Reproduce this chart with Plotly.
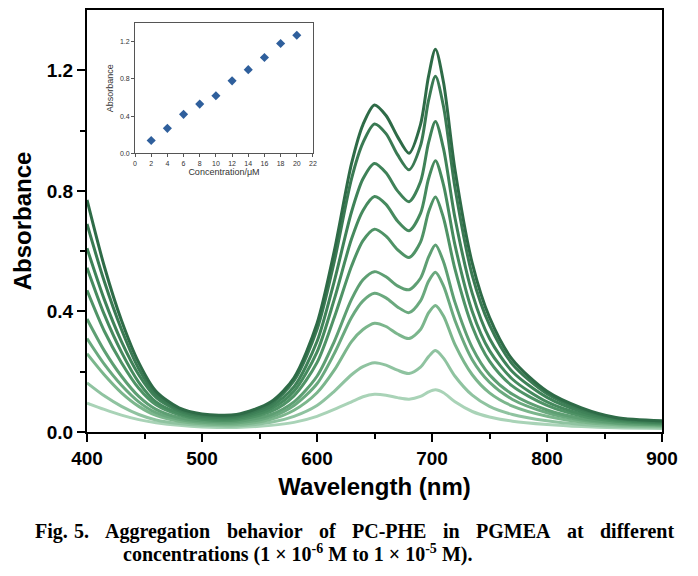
import plotly.graph_objects as go

wl = [400, 415, 430, 445, 460, 480, 500, 530, 560, 580, 600, 615, 630, 640, 650,
      660, 670, 680, 690, 697, 703, 710, 720, 735, 750, 770, 800, 830, 860, 900]

# absorbance spectra, lowest concentration (c1) to highest (c10)
c1 = [0.096, 0.075, 0.056, 0.041, 0.031, 0.022, 0.017, 0.015, 0.022, 0.032, 0.052, 0.075, 0.10, 0.117, 0.125,
      0.122, 0.114, 0.109, 0.118, 0.133, 0.14, 0.13, 0.10, 0.068, 0.05, 0.036, 0.025, 0.018, 0.014, 0.012]
c2 = [0.163, 0.12, 0.085, 0.058, 0.04, 0.028, 0.022, 0.02, 0.032, 0.052, 0.088, 0.135, 0.19, 0.217, 0.23,
      0.222, 0.205, 0.194, 0.215, 0.25, 0.27, 0.245, 0.185, 0.122, 0.085, 0.058, 0.037, 0.025, 0.019, 0.016]
c3 = [0.26, 0.19, 0.13, 0.085, 0.055, 0.036, 0.027, 0.025, 0.042, 0.072, 0.13, 0.205, 0.30, 0.34, 0.361,
      0.35, 0.325, 0.31, 0.34, 0.395, 0.42, 0.385, 0.29, 0.19, 0.13, 0.086, 0.052, 0.033, 0.024, 0.019]
c4 = [0.31, 0.225, 0.155, 0.10, 0.064, 0.042, 0.032, 0.03, 0.05, 0.088, 0.16, 0.26, 0.38, 0.435, 0.46,
      0.445, 0.415, 0.396, 0.435, 0.50, 0.53, 0.485, 0.37, 0.24, 0.165, 0.108, 0.064, 0.04, 0.028, 0.022]
c5 = [0.375, 0.27, 0.185, 0.118, 0.075, 0.048, 0.037, 0.035, 0.058, 0.10, 0.185, 0.30, 0.44, 0.505, 0.532,
      0.515, 0.485, 0.472, 0.51, 0.58, 0.62, 0.565, 0.43, 0.28, 0.19, 0.125, 0.073, 0.045, 0.031, 0.024]
c6 = [0.47, 0.335, 0.23, 0.145, 0.09, 0.057, 0.042, 0.04, 0.068, 0.12, 0.23, 0.38, 0.55, 0.635, 0.673,
      0.65, 0.605, 0.579, 0.63, 0.73, 0.78, 0.71, 0.54, 0.35, 0.235, 0.152, 0.088, 0.053, 0.036, 0.027]
c7 = [0.545, 0.39, 0.265, 0.165, 0.10, 0.063, 0.047, 0.045, 0.077, 0.135, 0.265, 0.44, 0.64, 0.735, 0.781,
      0.755, 0.70, 0.668, 0.725, 0.84, 0.90, 0.82, 0.62, 0.40, 0.27, 0.175, 0.10, 0.06, 0.04, 0.03]
c8 = [0.61, 0.44, 0.30, 0.19, 0.115, 0.07, 0.052, 0.05, 0.085, 0.15, 0.30, 0.50, 0.73, 0.84, 0.891,
      0.86, 0.80, 0.764, 0.83, 0.96, 1.03, 0.94, 0.71, 0.46, 0.31, 0.20, 0.115, 0.068, 0.043, 0.032]
c9 = [0.69, 0.50, 0.34, 0.21, 0.125, 0.075, 0.056, 0.054, 0.094, 0.17, 0.34, 0.565, 0.84, 0.96, 1.022,
      0.99, 0.92, 0.87, 0.95, 1.10, 1.18, 1.08, 0.81, 0.52, 0.355, 0.225, 0.127, 0.075, 0.046, 0.035]
c10 = [0.77, 0.55, 0.37, 0.23, 0.135, 0.08, 0.06, 0.058, 0.10, 0.18, 0.36, 0.60, 0.89, 1.02, 1.085,
       1.05, 0.98, 0.925, 1.02, 1.18, 1.27, 1.16, 0.87, 0.56, 0.38, 0.24, 0.135, 0.08, 0.048, 0.037]

spectra = [c1, c2, c3, c4, c5, c6, c7, c8, c9, c10]
colores = ['#a9d3b7', '#8fc3a0', '#7bb68c', '#6aa97e', '#5e9f73',
           '#4f9366', '#468a5e', '#3f8258', '#3a7a53', '#2e6b47']

# inset: peak absorbance at 703 nm vs concentration
conc = [2, 4, 6, 8, 10, 12, 14, 16, 18, 20]
abs_703 = [0.14, 0.27, 0.42, 0.53, 0.62, 0.78, 0.90, 1.03, 1.18, 1.27]

fig = go.Figure()

for s, col in zip(spectra, colores):
    fig.add_trace(go.Scatter(x=wl, y=s, mode='lines',
                             line=dict(color=col, width=3, shape='spline', smoothing=0.8),
                             showlegend=False))

fig.add_trace(go.Scatter(x=conc, y=abs_703, mode='markers', xaxis='x2', yaxis='y2',
                         marker=dict(symbol='diamond', size=7, color='#2f5f9c'),
                         showlegend=False))

ejes = dict(showline=True, linecolor='black', linewidth=2, mirror=True, automargin=False,
            showgrid=False, zeroline=False, ticks='outside', ticklen=8, tickwidth=2,
            tickcolor='black',
            tickfont=dict(family='Liberation Sans', size=19, color='black', weight='bold'))

ejes_inset = dict(showline=True, linecolor='#555', linewidth=1, mirror=True, automargin=False,
                  showgrid=False, zeroline=False, ticks='outside', ticklen=3, tickcolor='#555',
                  tickfont=dict(family='Liberation Sans', size=7, color='#333'))

# la pagina tiene 8px de margen en el body, por eso 690x568 y l=79, t=2
fig.update_layout(
    width=690, height=568,
    margin=dict(l=79, r=36, t=2, b=144, autoexpand=False),
    paper_bgcolor='white', plot_bgcolor='white',
    xaxis=dict(range=[400, 900], dtick=100,
               minor=dict(dtick=50, ticks='outside', ticklen=5, tickwidth=2, tickcolor='black'),
               title=dict(text='Wavelength (nm)', standoff=10,
                          font=dict(family='Liberation Sans', size=24, color='black', weight='bold')),
               **ejes),
    yaxis=dict(range=[0, 1.4], tickvals=[0, 0.4, 0.8, 1.2], ticktext=['0.0', '0.4', '0.8', '1.2'],
               minor=dict(tickvals=[0.2, 0.6, 1.0], ticks='outside', ticklen=5, tickwidth=2,
                          tickcolor='black'),
               title=dict(text='Absorbance', standoff=8,
                          font=dict(family='Liberation Sans', size=24, color='black', weight='bold')),
               **ejes),
    xaxis2=dict(domain=[0.0835, 0.393], anchor='y2', range=[0, 22], dtick=2,
                title=dict(text='Concentration/μM', standoff=2,
                           font=dict(family='Liberation Sans', size=9, color='#333')),
                **ejes_inset),
    yaxis2=dict(domain=[0.66, 0.969], anchor='x2', range=[0, 1.4],
                tickvals=[0, 0.4, 0.8, 1.2], ticktext=['0.0', '0.4', '0.8', '1.2'],
                title=dict(text='Absorbance', standoff=4,
                           font=dict(family='Liberation Sans', size=9, color='#333')),
                **ejes_inset),
)

# pie de figura, primera linea justificada palabra por palabra
palabras = ['Fig.', '5.', 'Aggregation', 'behavior', 'of', 'PC-PHE', 'in', 'PGMEA', 'at', 'different']
pos_x = [33, 72, 103, 225, 317, 350, 441, 474, 565, 598]
fuente_pie = dict(family='Liberation Serif', size=20, color='black', weight='bold')
for p, x in zip(palabras, pos_x):
    fig.add_annotation(text=p, x=x, y=531, xref='paper', yref='paper', showarrow=False,
                       xanchor='left', yanchor='middle', font=fuente_pie)

fig.add_annotation(text='concentrations (1 × 10<sup>-6</sup> M to 1 × 10<sup>-5</sup> M).',
                   x=121, y=553, xref='paper', yref='paper', showarrow=False,
                   xanchor='left', yanchor='middle', font=fuente_pie)

# convertir posiciones en pixeles (ventana) a coordenadas paper
for a in fig.layout.annotations:
    a.x = (a.x - 87) / 575
    a.y = (432 - a.y) / 422

fig.write_html('out.html')
